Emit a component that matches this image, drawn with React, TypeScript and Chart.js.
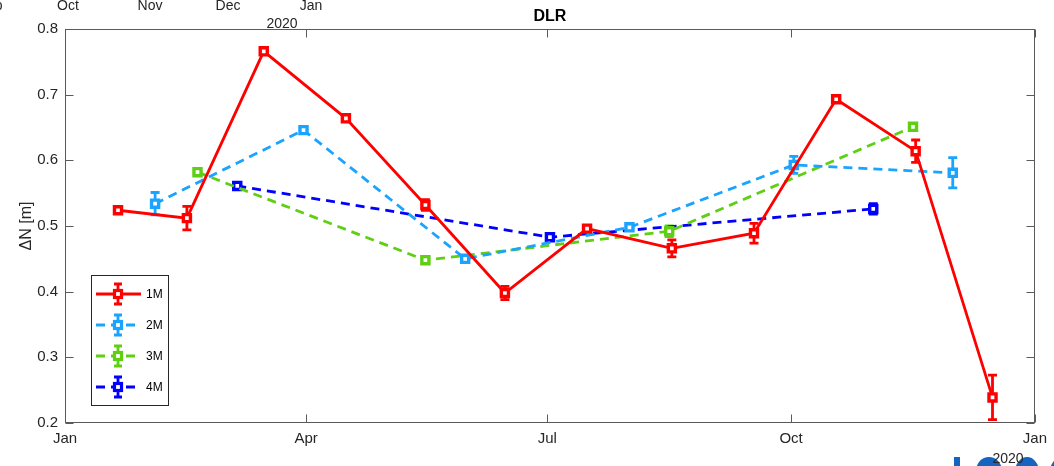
import React, { useEffect, useRef } from "react";
import { Chart, registerables } from "chart.js";

Chart.register(...registerables);

// ---------- data (x = day of year 2020, y = ΔN [m]) ----------
const xTickDays = [0, 91, 182, 274, 366];
const xTickLabels = ["Jan", "Apr", "Jul", "Oct", "Jan"];
const yMin = 0.2;
const yMax = 0.8;
const yStep = 0.1;

const days1M = [20, 46, 75, 106, 136, 166, 197, 229, 260, 291, 321, 350];
const vals1M = [0.524, 0.512, 0.766, 0.664, 0.532, 0.398, 0.496, 0.466, 0.489, 0.693, 0.614, 0.239];
const err1M = [0.004, 0.018, 0.004, 0.004, 0.008, 0.01, 0.005, 0.013, 0.015, 0.005, 0.017, 0.034];

const days2M = [34, 90, 151, 213, 275, 335];
const vals2M = [0.534, 0.646, 0.45, 0.498, 0.593, 0.581];
const err2M = [0.017, 0.004, 0.004, 0.004, 0.013, 0.023];

const days3M = [50, 136, 228, 320];
const vals3M = [0.582, 0.448, 0.492, 0.651];
const err3M = [0.004, 0.004, 0.008, 0.005];

const days4M = [65, 183, 305];
const vals4M = [0.561, 0.483, 0.526];
const err4M = [0.004, 0.004, 0.008];

const seriesNames = ["1M", "2M", "3M", "4M"];
const seriesColors = ["#FF0000", "#1AA3FF", "#5FCF14", "#0000FF"];
const seriesDashed = [false, true, true, true];

const titleText = "DLR";
const yAxisTitle = "ΔN [m]";
const topStrayLabels = ["Sep", "Oct", "Nov", "Dec", "Jan"];
const topStrayYear = "2020";
const bottomYear = "2020";

const FONT = "'Liberation Sans', Arial, Helvetica, sans-serif";
const AXIS_COLOR = "#5a5a5a";
const TEXT_COLOR = "#262626";

const allDays = [days1M, days2M, days3M, days4M];
const allVals = [vals1M, vals2M, vals3M, vals4M];
const allErrs = [err1M, err2M, err3M, err4M];

const DASH = [9, 6];
const LW = 2.8;

const decorPlugin = {
  id: "matlabDecor",
  beforeDatasetsDraw(chart: any) {
    const ctx = chart.ctx;
    const xs = chart.scales.x;
    const ys = chart.scales.y;
    ctx.save();
    // error bars
    allDays.forEach((days, si) => {
      ctx.strokeStyle = seriesColors[si];
      ctx.lineWidth = LW;
      ctx.setLineDash([]);
      days.forEach((d, i) => {
        const px = xs.getPixelForValue(d);
        const v = allVals[si][i];
        const e = allErrs[si][i];
        const pTop = ys.getPixelForValue(v + e);
        const pBot = ys.getPixelForValue(v - e);
        ctx.beginPath();
        ctx.moveTo(px, pTop);
        ctx.lineTo(px, pBot);
        ctx.moveTo(px - 4.5, pTop);
        ctx.lineTo(px + 4.5, pTop);
        ctx.moveTo(px - 4.5, pBot);
        ctx.lineTo(px + 4.5, pBot);
        ctx.stroke();
      });
    });
    ctx.restore();
  },
  afterDraw(chart: any) {
    const ctx = chart.ctx;
    const a = chart.chartArea;
    const xs = chart.scales.x;
    const ys = chart.scales.y;
    ctx.save();
    // axes box
    ctx.strokeStyle = AXIS_COLOR;
    ctx.lineWidth = 1;
    ctx.setLineDash([]);
    const L = Math.round(a.left) + 0.5;
    const R = Math.round(a.right) - 0.5;
    const T = Math.round(a.top) + 0.5;
    const B = Math.round(a.bottom) - 0.5;
    ctx.strokeRect(L, T, R - L, B - T);
    // inward ticks
    const tl = 8;
    ctx.beginPath();
    for (let v = yMin; v <= yMax + 1e-9; v += yStep) {
      const py = Math.round(ys.getPixelForValue(v)) + 0.5;
      ctx.moveTo(L, py);
      ctx.lineTo(L + tl, py);
      ctx.moveTo(R, py);
      ctx.lineTo(R - tl, py);
    }
    xTickDays.forEach((d) => {
      const px = Math.round(xs.getPixelForValue(d)) + 0.5;
      ctx.moveTo(px, T);
      ctx.lineTo(px, T + tl);
      ctx.moveTo(px, B);
      ctx.lineTo(px, B - tl);
    });
    ctx.stroke();

    // title
    ctx.fillStyle = "#000";
    ctx.font = `bold 16px ${FONT}`;
    ctx.textAlign = "center";
    ctx.textBaseline = "alphabetic";
    ctx.fillText(titleText, (a.left + a.right) / 2, 21);

    // y axis title
    ctx.save();
    ctx.translate(31, (a.top + a.bottom) / 2);
    ctx.rotate(-Math.PI / 2);
    ctx.font = `16px ${FONT}`;
    ctx.fillStyle = TEXT_COLOR;
    ctx.textAlign = "center";
    ctx.fillText(yAxisTitle, 0, 0);
    ctx.restore();

    // stray labels from the neighbouring panel above
    ctx.font = `14px ${FONT}`;
    ctx.fillStyle = TEXT_COLOR;
    ctx.textAlign = "center";
    const strayX = [-10, 68, 150, 228, 311];
    topStrayLabels.forEach((t, i) => ctx.fillText(t, strayX[i], 10));
    ctx.fillText(topStrayYear, 282, 28);

    // partial blue logo at bottom right
    ctx.fillStyle = "#1464C0";
    ctx.fillRect(954, 457, 6, 10);
    ctx.beginPath();
    ctx.ellipse(989, 471, 13, 14, 0, 0, Math.PI * 2);
    ctx.fill();
    ctx.beginPath();
    ctx.ellipse(1027, 472, 12, 15, 0, 0, Math.PI * 2);
    ctx.fill();
    ctx.beginPath();
    ctx.ellipse(1062, 472, 12, 15, 0, 0, Math.PI * 2);
    ctx.fill();
    ctx.fillStyle = "#ffffff";
    ctx.beginPath();
    ctx.ellipse(1027, 474, 5, 8, 0, 0, Math.PI * 2);
    ctx.fill();
    ctx.fillStyle = TEXT_COLOR;
    ctx.font = `14px ${FONT}`;
    ctx.fillText(bottomYear, 1008, 463);

    // legend
    const lx = 91.5, ly = 275.5, lw = 77, lh = 130;
    ctx.fillStyle = "#fff";
    ctx.fillRect(lx, ly, lw, lh);
    ctx.strokeStyle = "#262626";
    ctx.lineWidth = 1;
    ctx.strokeRect(lx, ly, lw, lh);
    const rowY = [294, 325, 356, 387];
    seriesNames.forEach((name, i) => {
      const y = rowY[i];
      const c = seriesColors[i];
      ctx.strokeStyle = c;
      ctx.lineWidth = LW;
      ctx.setLineDash(seriesDashed[i] ? DASH : []);
      ctx.beginPath();
      ctx.moveTo(96, y);
      ctx.lineTo(141, y);
      ctx.stroke();
      ctx.setLineDash([]);
      // error bar
      ctx.beginPath();
      ctx.moveTo(118, y - 10);
      ctx.lineTo(118, y + 10);
      ctx.moveTo(114, y - 10);
      ctx.lineTo(122, y - 10);
      ctx.moveTo(114, y + 10);
      ctx.lineTo(122, y + 10);
      ctx.stroke();
      // marker
      ctx.fillStyle = "#fff";
      ctx.lineWidth = 3.2;
      ctx.fillRect(114.5, y - 3.5, 7, 7);
      ctx.strokeRect(114.5, y - 3.5, 7, 7);
      ctx.fillStyle = "#000";
      ctx.font = `12px ${FONT}`;
      ctx.textAlign = "left";
      ctx.textBaseline = "middle";
      ctx.fillText(name, 146, y + 1);
    });
    ctx.restore();
  },
};

export default function App() {
  const ref = useRef<HTMLCanvasElement | null>(null);
  useEffect(() => {
    if (!ref.current) return;
    const datasets = seriesNames.map((name, si) => ({
      label: name,
      data: allDays[si].map((d, i) => ({ x: d, y: allVals[si][i] })),
      showLine: true,
      borderColor: seriesColors[si],
      backgroundColor: seriesColors[si],
      borderWidth: LW,
      borderDash: seriesDashed[si] ? DASH : [],
      pointStyle: "rect",
      pointRadius: 5,
      pointBorderWidth: 3.4,
      pointBorderColor: seriesColors[si],
      pointBackgroundColor: "#ffffff",
      tension: 0,
    }));
    const chart = new Chart(ref.current, {
      type: "line",
      data: { datasets },
      options: {
        animation: false,
        responsive: false,
        devicePixelRatio: 1,
        layout: { padding: { top: 29, right: 18, left: 0, bottom: 0 } },
        plugins: { legend: { display: false }, tooltip: { enabled: false }, title: { display: false } },
        scales: {
          x: {
            type: "linear",
            min: 0,
            max: 366,
            grid: { display: false, drawTicks: false },
            border: { display: false },
            afterBuildTicks: (scale: any) => {
              scale.ticks = xTickDays.map((v) => ({ value: v }));
            },
            afterFit: (scale: any) => {
              scale.height = 43;
            },
            ticks: {
              autoSkip: false,
              maxRotation: 0,
              padding: 7,
              color: TEXT_COLOR,
              font: { family: FONT, size: 15 },
              callback: (_v: any, i: number) => xTickLabels[i],
            },
          },
          y: {
            type: "linear",
            min: yMin,
            max: yMax,
            grid: { display: false, drawTicks: false },
            border: { display: false },
            afterFit: (scale: any) => {
              scale.width = 65;
            },
            ticks: {
              stepSize: yStep,
              padding: 7,
              color: TEXT_COLOR,
              font: { family: FONT, size: 15 },
              callback: (v: any) => Number(v).toFixed(1),
            },
          },
        },
      },
      plugins: [decorPlugin],
    } as any);
    return () => chart.destroy();
  }, []);
  return (
    <div style={{ position: "absolute", left: 0, top: 0, width: 1054, height: 466, background: "#fff" }}>
      <canvas ref={ref} width={1054} height={466} style={{ display: "block" }} />
    </div>
  );
}
